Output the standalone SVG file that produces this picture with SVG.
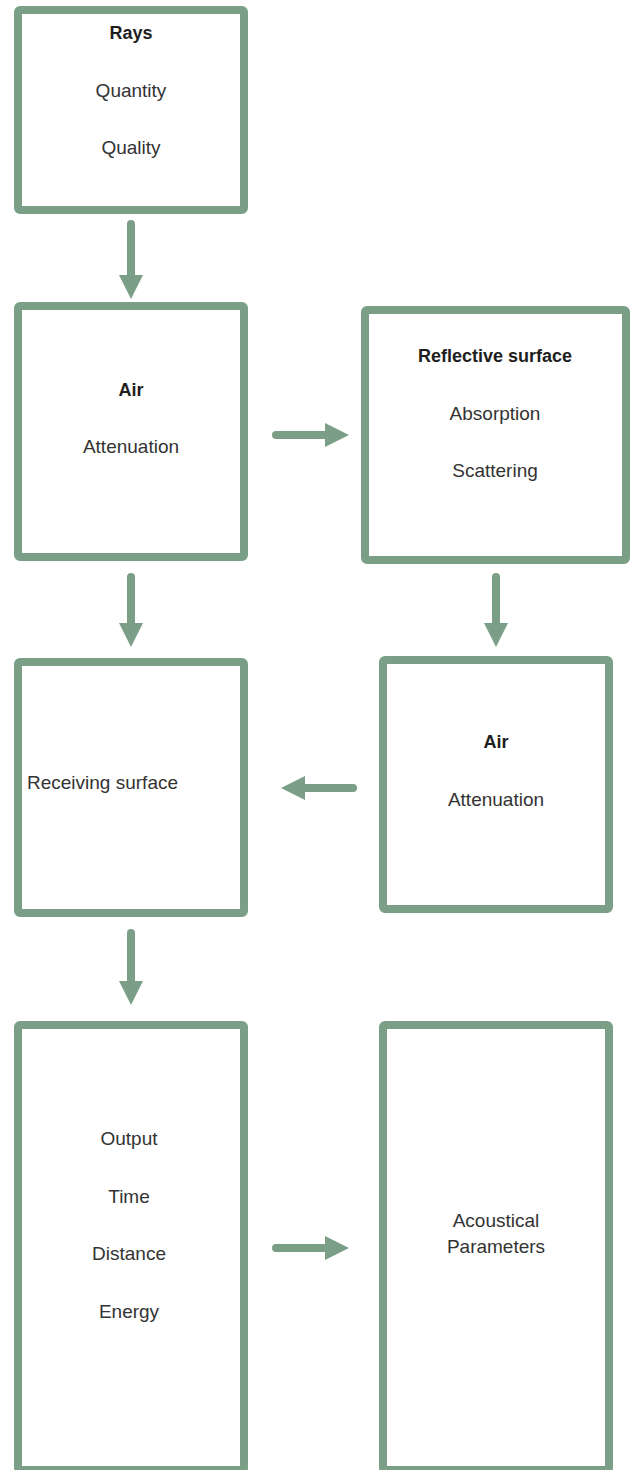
<svg xmlns="http://www.w3.org/2000/svg" width="630" height="1470" viewBox="0 0 630 1470">
  <style>
    .box { fill: #ffffff; stroke: #7b9f86; stroke-width: 8; }
    .link { fill: none; stroke: #7b9f86; stroke-width: 8; stroke-linecap: round; }
    text { font-family: "Liberation Sans", Arial, sans-serif; font-size: 19px; fill: #333333; text-anchor: middle; }
    .title { font-weight: bold; font-size: 18px; fill: #1e1e1e; }
  </style>
  <defs>
    <marker id="head" viewBox="0 0 24 24" refX="0" refY="12" markerWidth="24" markerHeight="24" markerUnits="userSpaceOnUse" orient="auto">
      <path d="M0,0 L24,12 L0,24 Z" fill="#7b9f86"/>
    </marker>
  </defs>
  <rect width="630" height="1470" fill="#ffffff"/>

  <g id="connectors">
    <line class="link" x1="131" y1="224" x2="131" y2="275" marker-end="url(#head)"/>
    <line class="link" x1="276" y1="435" x2="325" y2="435" marker-end="url(#head)"/>
    <line class="link" x1="131" y1="577" x2="131" y2="623" marker-end="url(#head)"/>
    <line class="link" x1="496" y1="577" x2="496" y2="623" marker-end="url(#head)"/>
    <line class="link" x1="353" y1="788" x2="305" y2="788" marker-end="url(#head)"/>
    <line class="link" x1="131" y1="933" x2="131" y2="981" marker-end="url(#head)"/>
    <line class="link" x1="276" y1="1248" x2="325" y2="1248" marker-end="url(#head)"/>
  </g>

  <g id="rays">
    <rect class="box" x="18" y="10" width="226" height="200" rx="2"/>
    <text class="title" x="131" y="39">Rays</text>
    <text x="131" y="97">Quantity</text>
    <text x="131" y="154">Quality</text>
  </g>

  <g id="air-direct">
    <rect class="box" x="18" y="306" width="226" height="251" rx="2"/>
    <text class="title" x="131" y="396">Air</text>
    <text x="131" y="453">Attenuation</text>
  </g>

  <g id="reflective-surface">
    <rect class="box" x="365" y="310" width="261" height="250" rx="2"/>
    <text class="title" x="495" y="362">Reflective surface</text>
    <text x="495" y="420">Absorption</text>
    <text x="495" y="477">Scattering</text>
  </g>

  <g id="receiving-surface">
    <rect class="box" x="18" y="662" width="226" height="251" rx="2"/>
    <text x="27" y="789" style="text-anchor: start">Receiving surface</text>
  </g>

  <g id="air-reflected">
    <rect class="box" x="383" y="660" width="226" height="249" rx="2"/>
    <text class="title" x="496" y="748">Air</text>
    <text x="496" y="806">Attenuation</text>
  </g>

  <g id="output">
    <rect class="box" x="18" y="1025" width="226" height="445" rx="2"/>
    <text x="129" y="1145">Output</text>
    <text x="129" y="1203">Time</text>
    <text x="129" y="1260">Distance</text>
    <text x="129" y="1318">Energy</text>
  </g>

  <g id="acoustical-parameters">
    <rect class="box" x="383" y="1025" width="226" height="445" rx="2"/>
    <text x="496" y="1227">Acoustical</text>
    <text x="496" y="1253">Parameters</text>
  </g>
</svg>
